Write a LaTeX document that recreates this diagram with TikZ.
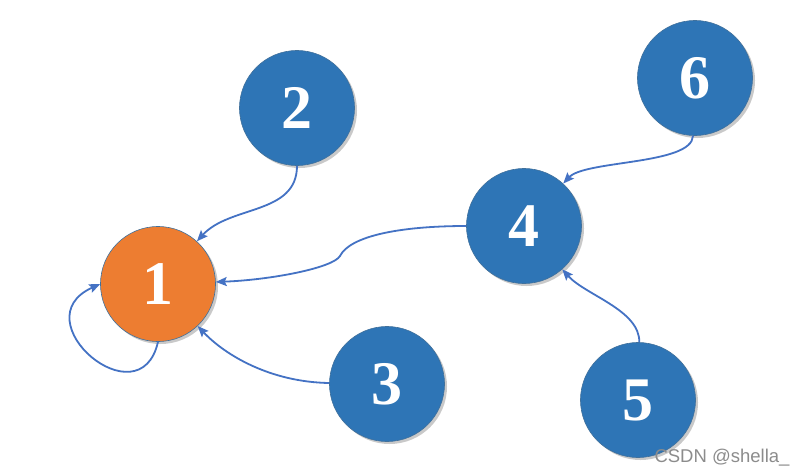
\documentclass[tikz,border=0pt]{standalone}
\usepackage{fontspec}
\setmainfont{Liberation Serif}
\newfontfamily\wmfont{Liberation Sans}
\usetikzlibrary{arrows.meta,shadows}
\definecolor{nodeblue}{HTML}{2E75B6}
\definecolor{nodeorange}{HTML}{ED7D31}
\definecolor{nodeline}{HTML}{41719C}
\definecolor{edgeblue}{HTML}{4472C4}
\definecolor{wmgray}{HTML}{8C8C8C}
\tikzset{
  vertex/.style={circle, minimum size=115pt, inner sep=0pt, fill=nodeblue,
    draw=nodeline, line width=0.6pt, text=white,
    font=\fontsize{62}{62}\selectfont\bfseries,
    drop shadow={shadow xshift=2.5pt, shadow yshift=-2.5pt, opacity=0.35, fill=black!60}},
  rootvertex/.style={vertex, fill=nodeorange},
  edge/.style={draw=edgeblue, line width=1.8pt,
    -{Stealth[length=11pt,width=9pt,inset=2pt]}},
  wm/.style={text=wmgray, font=\wmfont\fontsize{18.5}{18.5}\selectfont, inner sep=0pt}
}
\begin{document}
\begin{tikzpicture}[x=1pt,y=-1pt]
\useasboundingbox (0,0) rectangle (806,474);
\fill[white] (0,0) rectangle (806,474);
\node[rootvertex] (n1) at (158,284) {1};
\node[vertex] (n2) at (297,108) {2};
\node[vertex] (n3) at (387,384) {3};
\node[vertex] (n4) at (524,226) {4};
\node[vertex] (n5) at (638,400) {5};
\node[vertex] (n6) at (695,78) {6};
\coordinate (w41) at (340,256);
\draw[edge] (n2) .. controls (297,215) and (230,205) .. (n1);
\draw[edge] (n1.south) .. controls (140,422) and (20,320) .. (n1.west);
\draw[edge] (n4) .. controls (400,226) and (350,236) .. (w41)
   .. controls (333,268) and (270,280) .. (n1);
\draw[edge] (n3) .. controls (270,382) and (225,355) .. (n1);
\draw[edge] (n6) .. controls (692,165) and (585,160) .. (n4);
\draw[edge] (n5) .. controls (640,310) and (585,295) .. (n4);
\node[wm, anchor=base] (wmark) at (722,462) {CSDN @shella\_};
\end{tikzpicture}
\end{document}
